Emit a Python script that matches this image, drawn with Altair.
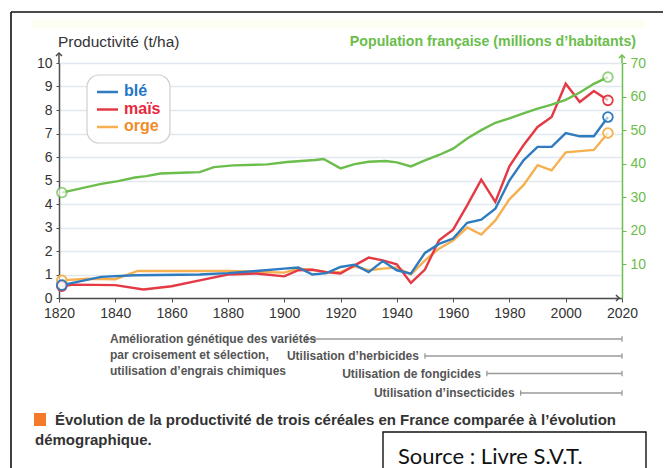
import altair as alt
import pandas as pd

# ---------------- data ----------------
pop_years = [1821, 1835, 1841, 1847, 1851, 1856, 1866, 1870, 1875, 1882, 1894, 1901, 1906, 1911, 1914,
             1920, 1925, 1930, 1936, 1940, 1945, 1950, 1955, 1960, 1965, 1970, 1975, 1980,
             1985, 1990, 1995, 2000, 2005, 2010, 2015]
pop_values = [31.4, 34.0, 34.8, 35.9, 36.3, 37.1, 37.4, 37.5, 39.0, 39.5, 39.8, 40.5, 40.8, 41.1, 41.4,
              38.6, 39.9, 40.6, 40.8, 40.4, 39.2, 41.0, 42.6, 44.5, 47.5, 50.0, 52.2, 53.5,
              55.0, 56.4, 57.6, 59.0, 61.2, 63.8, 65.8]

ble_years = [1821, 1835, 1847, 1870, 1880, 1890, 1900, 1905, 1910, 1915, 1920, 1925, 1930, 1935, 1940,
             1945, 1950, 1955, 1960, 1965, 1970, 1975, 1980, 1985, 1990, 1995, 2000, 2005, 2010, 2015]
ble_values = [0.55, 0.9, 0.97, 1.0, 1.06, 1.15, 1.25, 1.3, 1.0, 1.06, 1.32, 1.42, 1.1, 1.57, 1.18,
              1.04, 1.92, 2.3, 2.53, 3.2, 3.33, 3.8, 5.0, 5.86, 6.43, 6.43, 7.02, 6.88, 6.88, 7.7]

mais_years = [1821, 1825, 1840, 1850, 1860, 1870, 1880, 1890, 1900, 1905, 1910, 1915, 1920, 1925, 1930,
              1935, 1940, 1945, 1950, 1955, 1960, 1965, 1970, 1975, 1980, 1985, 1990, 1995, 2000,
              2005, 2010, 2015]
mais_values = [0.5, 0.57, 0.55, 0.36, 0.5, 0.75, 1.0, 1.04, 0.92, 1.18, 1.2, 1.1, 1.04, 1.39, 1.72,
               1.6, 1.43, 0.64, 1.21, 2.46, 2.91, 3.94, 5.04, 4.09, 5.6, 6.5, 7.28, 7.7, 9.12,
               8.34, 8.81, 8.41]

orge_years = [1821, 1830, 1840, 1848, 1880, 1900, 1905, 1910, 1915, 1920, 1925, 1930, 1935, 1940, 1945,
              1950, 1955, 1960, 1965, 1970, 1975, 1980, 1985, 1990, 1995, 2000, 2005, 2010, 2015]
orge_values = [0.75, 0.82, 0.8, 1.15, 1.15, 1.08, 1.25, 1.2, 1.1, 1.1, 1.35, 1.18, 1.25, 1.3, 1.0,
               1.6, 2.1, 2.45, 3.0, 2.7, 3.3, 4.2, 4.8, 5.65, 5.43, 6.2, 6.25, 6.3, 7.02]

series_names = ["orge", "maïs", "blé"]
series_line_colors = ["#f6b04f", "#e43a45", "#2f7bbf"]
legend_names = ["blé", "maïs", "orge"]
legend_text_colors = ["#2277c7", "#e8283c", "#f28c28"]
legend_line_colors = ["#2f7bbf", "#e43a45", "#f6b04f"]

x_ticks = list(range(1820, 2021, 20))
left_ticks = list(range(0, 11))
right_ticks = list(range(10, 71, 10))

tl_first_block = ["Amélioration génétique des variétés", "par croisement et sélection,",
                  "utilisation d’engrais chimiques"]
tl_labels = ["Utilisation d’herbicides", "Utilisation de fongicides", "Utilisation d’insecticides"]
tl_first_start = 1908
tl_starts = [1950, 1972, 1984]
tl_end = 2020

caption_lines = ["Évolution de la productivité de trois céréales en France comparée à l’évolution",
                 "démographique."]
source_text = "Source : Livre S.V.T."
title_left = "Productivité (t/ha)"
title_right = "Population française (millions d’habitants)"

# ---------------- tables ----------------
rows = []
for name, yrs, vals in [("orge", orge_years, orge_values), ("maïs", mais_years, mais_values),
                        ("blé", ble_years, ble_values)]:
    rows += [{"serie": name, "annee": y, "val": v} for y, v in zip(yrs, vals)]
df_c = pd.DataFrame(rows)
df_c_ends = pd.concat([df_c.groupby("serie").head(1), df_c.groupby("serie").tail(1)])
df_p = pd.DataFrame({"annee": pop_years, "pop": pop_values})
df_p_ends = pd.concat([df_p.head(1), df_p.tail(1)])

# ---------------- layout ----------------
FONT = "Liberation Sans, Arial, sans-serif"
W, H = 563, 235
PADL, PADT = 51, 55
TOTAL_W, TOTAL_H = 655, 460
GREEN = "#6bbd4c"
AX = "#4d4d4d"

xscale = alt.Scale(domain=[1820, 2020], nice=False, zero=False)
xaxis = alt.Axis(values=x_ticks, format="d", title=None, labelFont=FONT, labelFontSize=14,
                 labelColor="#333", tickSize=4, tickColor=AX, domainColor=AX, domainWidth=1.5,
                 labelPadding=4, grid=False, labelFlush=False)


def X(field):
    return alt.X(field, scale=xscale, axis=xaxis)


cereal_color = alt.Color("serie:N", scale=alt.Scale(domain=series_names, range=series_line_colors),
                         legend=None)

left_y = alt.Y("val:Q", scale=alt.Scale(domain=[0, 10], nice=False),
               axis=alt.Axis(values=left_ticks, title=None, labelFont=FONT, labelFontSize=14,
                             labelColor="#333", tickSize=3, tickColor=AX, domainColor=AX,
                             domainWidth=1.5, labelPadding=4, grid=True, gridColor="#e1e8ef",
                             gridWidth=1.5))
right_y = alt.Y("pop:Q", scale=alt.Scale(domain=[0, 70], nice=False),
                axis=alt.Axis(orient="right", values=right_ticks, title=None, labelFont=FONT,
                              labelFontSize=14, labelColor=GREEN, tickSize=4, tickColor=GREEN,
                              domainColor=GREEN, domainWidth=1.5, labelPadding=4, grid=False))

layers = []
one = pd.DataFrame({"k": [0]})

# outer frame and faint band
layers.append(alt.Chart(one).mark_rect(color="#fefdf2").encode(
    x=alt.value(-28), x2=alt.value(585), y=alt.value(-43), y2=alt.value(-35)))
for xv in [-48, 605]:
    layers.append(alt.Chart(one).mark_rule(color="#111", strokeWidth=1.6).encode(
        x=alt.value(xv), y=alt.value(-51), y2=alt.value(420)))
layers.append(alt.Chart(one).mark_rule(color="#111", strokeWidth=1.6).encode(
    x=alt.value(-48), x2=alt.value(605), y=alt.value(-51)))

# cereal lines
layers.append(alt.Chart(df_c).mark_line(strokeWidth=2.4).encode(
    x=X("annee:Q"), y=left_y, color=cereal_color, order="annee:Q"))

# population line
layers.append(alt.Chart(df_p).mark_line(strokeWidth=2.4, color=GREEN).encode(
    x=X("annee:Q"), y=right_y))

# end circles
layers.append(alt.Chart(df_c_ends).mark_point(filled=False, size=95, strokeWidth=1.8, fill="white",
                                              fillOpacity=0.6).encode(
    x=X("annee:Q"),
    y=alt.Y("val:Q", scale=alt.Scale(domain=[0, 10], nice=False), axis=None),
    color=cereal_color))
layers.append(alt.Chart(df_p_ends).mark_point(filled=False, size=95, strokeWidth=1.8, fill="white",
                                              color=GREEN).encode(
    x=X("annee:Q"),
    y=alt.Y("pop:Q", scale=alt.Scale(domain=[0, 70], nice=False), axis=None)))

# axis arrow extensions
layers.append(alt.Chart(one).mark_rule(color=AX, strokeWidth=1.5).encode(
    x=alt.value(0), y=alt.value(0), y2=alt.value(-10)))
layers.append(alt.Chart(one).mark_point(shape="M-1,1L0,0L1,1", filled=False, color=AX, size=36,
                                        strokeWidth=1.5, opacity=1).encode(
    x=alt.value(0), y=alt.value(-10)))
layers.append(alt.Chart(one).mark_rule(color=GREEN, strokeWidth=1.5).encode(
    x=alt.value(W), y=alt.value(0), y2=alt.value(-8)))
layers.append(alt.Chart(one).mark_point(shape="M-1,1L0,0L1,1", filled=False, color=GREEN, size=36,
                                        strokeWidth=1.5, opacity=1).encode(
    x=alt.value(W), y=alt.value(-8)))
layers.append(alt.Chart(one).mark_point(shape="M-1,-1L0,0L-1,1", filled=False, color=AX, size=36,
                                        strokeWidth=1.5, opacity=1).encode(
    x=alt.value(W - 3), y=alt.value(H)))

# titles
layers.append(alt.Chart(one).mark_text(text=title_left, font=FONT, fontSize=15.5, color="#333",
                                       align="left", baseline="middle").encode(
    x=alt.value(-1), y=alt.value(-21)))
layers.append(alt.Chart(one).mark_text(text=title_right, font=FONT, fontSize=14.2, fontWeight="bold",
                                       color=GREEN, align="right", baseline="middle").encode(
    x=alt.value(577), y=alt.value(-21)))

# legend box
layers.append(alt.Chart(one).mark_rect(fill="white", stroke="#cfcfcf", strokeWidth=1.2,
                                       cornerRadius=12).encode(
    x=alt.value(28), x2=alt.value(111), y=alt.value(12), y2=alt.value(80)))
legend_y = [29, 46.5, 64]
for name, tc, lc, ly in zip(legend_names, legend_text_colors, legend_line_colors, legend_y):
    layers.append(alt.Chart(one).mark_rule(color=lc, strokeWidth=2.5).encode(
        x=alt.value(38), x2=alt.value(59), y=alt.value(ly)))
    layers.append(alt.Chart(one).mark_text(text=name, font=FONT, fontSize=16, fontWeight="bold",
                                           color=tc, align="left", baseline="middle").encode(
        x=alt.value(65), y=alt.value(ly - 1)))

# timeline
TL_COL = "#9a9a9a"
TL_TXT = "#555"
row_y = [276, 293, 310.5, 330]
starts = [tl_first_start] + tl_starts
for i, (st, ry) in enumerate(zip(starts, row_y)):
    d = pd.DataFrame({"annee": [st], "fin": [tl_end]})
    layers.append(alt.Chart(d).mark_rule(color=TL_COL, strokeWidth=1.6).encode(
        x=X("annee:Q"), x2="fin:Q", y=alt.value(ry)))
    dt = pd.DataFrame({"annee": [st, tl_end]})
    layers.append(alt.Chart(dt).mark_point(shape="M0,-1L0,1", filled=False, color=TL_COL, size=30,
                                           strokeWidth=1.3, opacity=1).encode(
        x=X("annee:Q"), y=alt.value(ry)))
    if i > 0:
        layers.append(alt.Chart(d).mark_text(text=tl_labels[i - 1], font=FONT, fontSize=12,
                                             fontWeight="bold", color=TL_TXT, align="right",
                                             baseline="middle", dx=-6).encode(
            x=X("annee:Q"), y=alt.value(ry)))
for j, line in enumerate(tl_first_block):
    layers.append(alt.Chart(one).mark_text(text=line, font=FONT, fontSize=12, fontWeight="bold",
                                           color=TL_TXT, align="left", baseline="middle").encode(
        x=alt.value(51), y=alt.value(276 + 16 * j)))

# caption
layers.append(alt.Chart(one).mark_rect(color="#f47a2a").encode(
    x=alt.value(-25), x2=alt.value(-13), y=alt.value(350), y2=alt.value(363)))
layers.append(alt.Chart(one).mark_text(text=caption_lines[0], font=FONT, fontSize=15,
                                       fontWeight="bold", color="#333", align="left",
                                       baseline="middle").encode(
    x=alt.value(-4), y=alt.value(357)))
layers.append(alt.Chart(one).mark_text(text=caption_lines[1], font=FONT, fontSize=15,
                                       fontWeight="bold", color="#333", align="left",
                                       baseline="middle").encode(
    x=alt.value(-24), y=alt.value(377)))

# source box
layers.append(alt.Chart(one).mark_rect(fill="white", stroke="#111", strokeWidth=1.4).encode(
    x=alt.value(324), x2=alt.value(587), y=alt.value(369), y2=alt.value(430)))
layers.append(alt.Chart(one).mark_text(text=source_text, font="Lato, Open Sans, sans-serif",
                                       fontSize=22, color="#111", align="left",
                                       baseline="middle").encode(
    x=alt.value(339), y=alt.value(394)))

chart = alt.layer(*layers).resolve_scale(y="independent").properties(
    width=W, height=H,
    autosize=alt.AutoSizeParams(type="none"),
    padding={"left": PADL, "top": PADT, "right": TOTAL_W - PADL - W, "bottom": TOTAL_H - PADT - H},
    background="white",
).configure_view(stroke=None)

chart.save("out.html", embed_options={"renderer": "svg", "actions": False})
